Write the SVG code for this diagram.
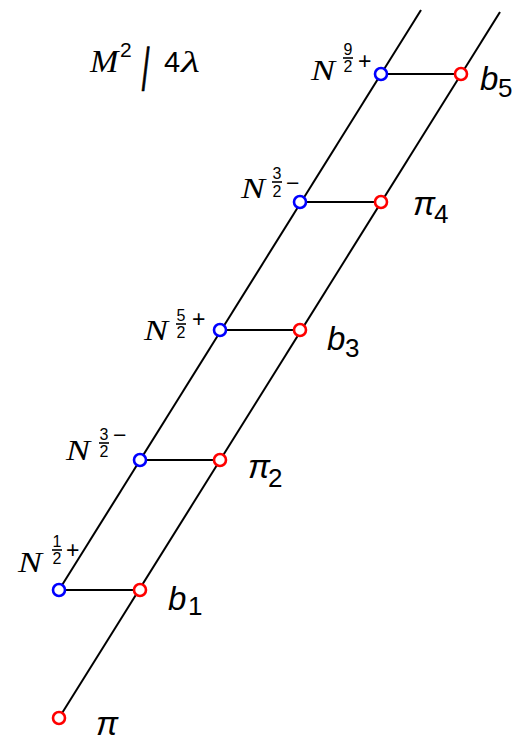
<svg xmlns="http://www.w3.org/2000/svg" width="524" height="742" viewBox="0 0 524 742">
<style>
.ln{stroke:#000;stroke-width:2;fill:none}
.bn{fill:#fff;stroke:#0000ff;stroke-width:2.6}
.rn{fill:#fff;stroke:#ff0000;stroke-width:2.6}
.N{font-family:"Liberation Serif",serif;font-style:italic;font-size:30px}
.fr{font-family:"Liberation Sans",sans-serif;font-size:16px;text-anchor:middle}
.sg{font-family:"Liberation Sans",sans-serif;font-size:23px}
.lb{font-family:"Liberation Sans",sans-serif;font-style:italic;font-size:33px}
.sb{font-family:"Liberation Sans",sans-serif;font-style:normal;font-size:26px}
.bar{stroke:#000;stroke-width:1.6}
</style>
<rect width="524" height="742" fill="#fff"/>
<g id="title">
<text transform="translate(90,72) scale(1.1,1)" style="font-family:'Liberation Serif',serif;font-style:italic;font-size:31px">M</text>
<text x="120" y="57" style="font-family:'Liberation Sans',sans-serif;font-size:21px">2</text>
<text transform="translate(142,90) scale(1.1,2.5)" style="font-family:'Liberation Sans',sans-serif;font-size:24px;stroke:#000;stroke-width:0.5">/</text>
<text x="164" y="72" style="font-family:'Liberation Sans',sans-serif;font-size:29px">4</text>
<text transform="translate(181,72) scale(1.45,1)" style="font-family:'Liberation Serif',serif;font-style:italic;font-size:30px">λ</text>
</g>
<g id="connectors">
<line class="ln" x1="59" y1="590" x2="421" y2="10"/>
<line class="ln" x1="59" y1="718" x2="500" y2="12"/>
<line class="ln" x1="59" y1="590" x2="140" y2="590"/>
<line class="ln" x1="140" y1="460" x2="220" y2="460"/>
<line class="ln" x1="220" y1="330" x2="300" y2="330"/>
<line class="ln" x1="300" y1="202" x2="381" y2="202"/>
<line class="ln" x1="381" y1="74" x2="461" y2="74"/>
</g>
<g id="N12">
<circle class="bn" cx="59" cy="590" r="6"/>
<text class="N" transform="translate(18,572) scale(1.2,1)">N</text>
<text class="fr" x="57" y="547">1</text><line class="bar" x1="52" y1="550" x2="62" y2="550"/><text class="fr" x="57" y="564">2</text>
<text class="sg" x="66" y="558">+</text>
</g>
<g id="N32a">
<circle class="bn" cx="140" cy="460" r="6"/>
<text class="N" transform="translate(66,460) scale(1.2,1)">N</text>
<text class="fr" x="104" y="440">3</text><line class="bar" x1="99" y1="443" x2="109" y2="443"/><text class="fr" x="104" y="457">2</text>
<text class="sg" x="113" y="443">−</text>
</g>
<g id="N52">
<circle class="bn" cx="220" cy="330" r="6"/>
<text class="N" transform="translate(144,340) scale(1.2,1)">N</text>
<text class="fr" x="181" y="321">5</text><line class="bar" x1="176" y1="324" x2="186" y2="324"/><text class="fr" x="181" y="338">2</text>
<text class="sg" x="192" y="327">+</text>
</g>
<g id="N32b">
<circle class="bn" cx="300" cy="202" r="6"/>
<text class="N" transform="translate(241,198) scale(1.2,1)">N</text>
<text class="fr" x="277" y="179">3</text><line class="bar" x1="272" y1="182" x2="282" y2="182"/><text class="fr" x="277" y="197">2</text>
<text class="sg" x="286" y="191">−</text>
</g>
<g id="N92">
<circle class="bn" cx="381" cy="74" r="6"/>
<text class="N" transform="translate(311,80) scale(1.2,1)">N</text>
<text class="fr" x="348" y="55">9</text><line class="bar" x1="343" y1="58" x2="353" y2="58"/><text class="fr" x="348" y="72">2</text>
<text class="sg" x="358" y="69">+</text>
</g>
<g id="pi">
<circle class="rn" cx="59" cy="718" r="6"/>
<text class="lb" x="96" y="735">π</text>
</g>
<g id="b1">
<circle class="rn" cx="140" cy="590" r="6"/>
<text class="lb" x="168" y="610">b<tspan class="sb" x="188" y="615">1</tspan></text>
</g>
<g id="pi2">
<circle class="rn" cx="220" cy="460" r="6"/>
<text class="lb" x="248" y="478">π<tspan class="sb" x="268" y="487">2</tspan></text>
</g>
<g id="b3">
<circle class="rn" cx="300" cy="330" r="6"/>
<text class="lb" x="327" y="350">b<tspan class="sb" x="345" y="357">3</tspan></text>
</g>
<g id="pi4">
<circle class="rn" cx="381" cy="202" r="6"/>
<text class="lb" x="413" y="215">π<tspan class="sb" x="434" y="223">4</tspan></text>
</g>
<g id="b5">
<circle class="rn" cx="461" cy="74" r="6"/>
<text class="lb" x="480" y="90">b<tspan class="sb" x="498" y="97">5</tspan></text>
</g>
</svg>
